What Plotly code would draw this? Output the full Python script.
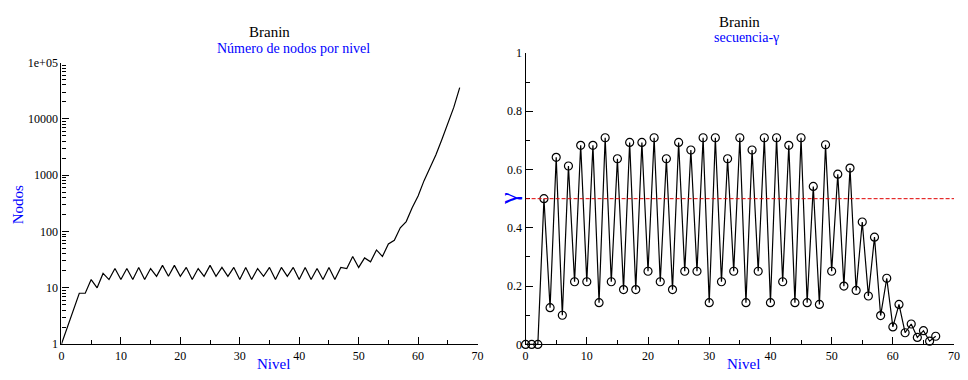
import plotly.graph_objects as go

W, H = 968, 380

# ---------------- data ----------------
nivel_nodos = list(range(0, 68))
nodos = [1, 2, 4, 8, 8, 14, 10, 18, 14, 22,
         14, 22, 14, 23, 14, 22, 16, 25, 16, 25,
         16, 23, 14, 22, 16, 25, 16, 23, 16, 23,
         14, 23, 14, 22, 16, 23, 14, 23, 16, 23,
         14, 23, 14, 22, 14, 23, 14, 23, 22, 36,
         23, 34, 29, 47, 36, 60, 70, 116, 150, 264,
         428, 800, 1350, 2300, 4300, 8000, 16000, 36000]

nivel_gamma = list(range(0, 68))
gamma = [0, 0, 0, 0.5, 0.126, 0.642, 0.1, 0.612, 0.215, 0.683,
         0.215, 0.683, 0.143, 0.709, 0.215, 0.637, 0.188, 0.693, 0.188, 0.693,
         0.251, 0.709, 0.215, 0.637, 0.188, 0.693, 0.251, 0.667, 0.251, 0.709,
         0.143, 0.709, 0.215, 0.637, 0.251, 0.709, 0.143, 0.667, 0.251, 0.709,
         0.143, 0.709, 0.215, 0.683, 0.143, 0.709, 0.143, 0.542, 0.137, 0.685,
         0.251, 0.584, 0.2, 0.605, 0.185, 0.42, 0.166, 0.368, 0.099, 0.227,
         0.06, 0.137, 0.04, 0.07, 0.024, 0.047, 0.011, 0.028]

umbral = 0.5

left_ytickvals = [1, 10, 100, 1000, 10000, 100000]
left_yticktext = ["1", "10", "100", "1000", "10000", "1e+05"]
right_ytickvals = [0, 0.2, 0.4, 0.6, 0.8, 1]
right_yticktext = ["0", "0.2", "0.4", "0.6", "0.8", "1"]
xtickvals = [0, 10, 20, 30, 40, 50, 60, 70]

FONT = "'Liberation Serif', 'DejaVu Serif', serif"
BLUE = "#0000ff"

fig = go.Figure()

fig.add_trace(go.Scatter(x=nivel_nodos, y=nodos, mode="lines",
                         line=dict(color="black", width=1.2),
                         xaxis="x", yaxis="y", showlegend=False, cliponaxis=False))
fig.add_trace(go.Scatter(x=nivel_gamma, y=gamma, mode="lines+markers",
                         line=dict(color="black", width=1.2),
                         marker=dict(symbol="circle-open", size=8, color="black",
                                     line=dict(width=1.2, color="black")),
                         xaxis="x2", yaxis="y2", showlegend=False, cliponaxis=False))

fig.add_shape(type="line", xref="x2", yref="y2", x0=0, x1=70, y0=umbral, y1=umbral,
              line=dict(color="#e00000", width=1, dash="4px,2px"))

minor_log = [k * 10 ** e for e in range(5) for k in range(2, 10)]

axis_common = dict(showline=True, linecolor="black", linewidth=1.3, mirror=False,
                   showgrid=False, zeroline=False, ticks="inside", ticklen=7,
                   tickcolor="black", tickwidth=1.2,
                   tickfont=dict(family=FONT, size=12, color="black"))

L0, L1 = 59 / W, 479 / W
R0, R1 = 527.5 / W, 960 / W
LB, LT = (H - 350) / H, (H - 57.7) / H
RB, RT = (H - 350.3) / H, (H - 47.7) / H

fig.update_layout(
    width=W, height=H, margin=dict(l=0, r=0, t=0, b=0),
    paper_bgcolor="white", plot_bgcolor="white",
    font=dict(family=FONT),
    xaxis=dict(domain=[L0, L1], range=[0, 70], tickvals=xtickvals,
               minor=dict(ticks="inside", ticklen=4, dtick=5, tick0=0,
                          tickcolor="black", tickwidth=1),
               anchor="y", **axis_common),
    yaxis=dict(domain=[LB, LT], type="log", range=[0, 5],
               tickvals=left_ytickvals, ticktext=left_yticktext,
               minor=dict(ticks="inside", ticklen=4, tickvals=minor_log,
                          tickcolor="black", tickwidth=1),
               anchor="x", **axis_common),
    xaxis2=dict(domain=[R0, R1], range=[0, 70], tickvals=xtickvals,
                minor=dict(ticks="inside", ticklen=4, dtick=5, tick0=0,
                           tickcolor="black", tickwidth=1),
                anchor="y2", **axis_common),
    yaxis2=dict(domain=[RB, RT], range=[0, 1],
                tickvals=right_ytickvals, ticktext=right_yticktext,
                minor=dict(ticks="inside", ticklen=4, dtick=0.1, tick0=0,
                           tickcolor="black", tickwidth=1),
                anchor="x2", **axis_common),
)

def ann(text, x, y, size, color, angle=0):
    fig.add_annotation(text=text, x=x / W, y=1 - y / H, xref="paper", yref="paper",
                       showarrow=False, textangle=angle,
                       font=dict(family=FONT, size=size, color=color),
                       xanchor="center", yanchor="middle")

ann("Branin", 269, 26, 15, "black")
ann("Número de nodos por nivel", 293, 43, 14, BLUE)
ann("Nodos", 16, 205, 15, BLUE, -90)
ann("Nivel", 273, 371, 15, BLUE)

ann("Branin", 743, 16, 15, "black")
ann("secuencia-γ", 750, 32, 14, BLUE)
ann("γ", 510, 199, 26, BLUE, -90)
ann("Nivel", 747, 371, 15, BLUE)

fig.write_html("out.html")
